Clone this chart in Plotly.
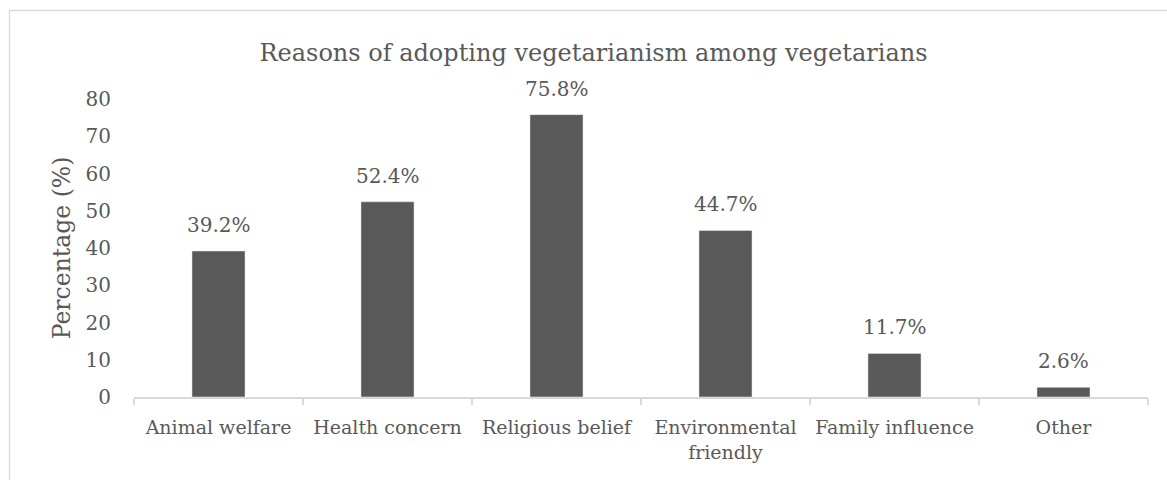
import plotly.graph_objects as go

categories = ["Animal welfare", "Health concern", "Religious belief",
              "Environmental<br>friendly", "Family influence", "Other"]
values = [39.2, 52.4, 75.8, 44.7, 11.7, 2.6]
y_ticks = [0, 10, 20, 30, 40, 50, 60, 70, 80]

FONT = "DejaVu Serif"
GREY = "#595959"

fig = go.Figure()
fig.add_trace(go.Bar(
    x=categories, y=values, marker_color=GREY, width=0.314,
    hoverinfo="skip",
))
for c, v in zip(categories, values):
    fig.add_annotation(x=c, y=v, text=f"{v}%", showarrow=False,
                       yanchor="bottom", yshift=12,
                       font=dict(family=FONT, size=20, color=GREY))

L, R, T, B = 134, 19, 99, 83
W, H = 1167, 480
pw, ph = W - L - R, H - T - B
fig.add_shape(type="rect", xref="paper", yref="paper",
              x0=(9.5 - L) / pw, x1=(W + 5 - L) / pw,
              y0=-(H + 5 - (H - B)) / ph, y1=1 + (T - 10.5) / ph,
              line=dict(color="#d9d9d9", width=1.3), fillcolor="rgba(0,0,0,0)",
              layer="below")

fig.update_layout(
    width=W, height=H,
    margin=dict(l=L, r=R, t=T, b=B),
    paper_bgcolor="white", plot_bgcolor="white",
    title=dict(text="Reasons of adopting vegetarianism among vegetarians",
               x=593.5 / W, xanchor="center", xref="container", y=1 - 53 / H, yanchor="middle",
               font=dict(family=FONT, size=24, color=GREY)),
    showlegend=False,
    xaxis=dict(showline=True, linecolor="#d9d9d9", linewidth=2,
               ticks="outside", tickson="boundaries", ticklen=6, tickcolor="#d9d9d9",
               tickwidth=1.5, ticklabelstandoff=12,
               tickfont=dict(family=FONT, size=19, color=GREY), showgrid=False),
    yaxis=dict(range=[0, 80], tickvals=y_ticks, showgrid=False, zeroline=False,
               showline=False, ticks="", ticklabelstandoff=22,
               tickfont=dict(family=FONT, size=20, color=GREY),
               title=dict(text="Percentage (%)", standoff=8,
                          font=dict(family=FONT, size=23.5, color=GREY))),
)
fig.write_html("out.html")
